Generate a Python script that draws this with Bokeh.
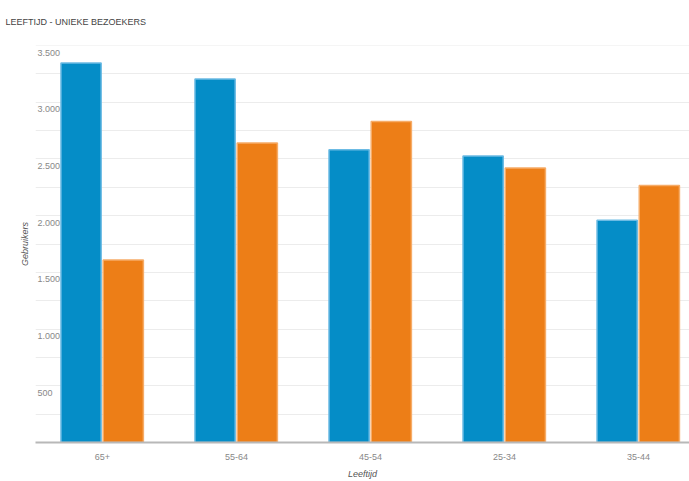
import numpy as np
from bokeh.plotting import figure, ColumnDataSource
from bokeh.models import Range1d, FixedTicker, LabelSet, Title, LinearAxis
from bokeh.core.properties import value
from bokeh.transform import dodge
from bokeh.embed import file_html
from bokeh.resources import INLINE

# ---- data ----
categories = ["65+", "55-64", "45-54", "25-34", "35-44"]
series_blue = [3345, 3205, 2580, 2525, 1960]
series_orange = [1610, 2640, 2830, 2420, 2265]
y_tick_values = [500, 1000, 1500, 2000, 2500, 3000, 3500]
y_tick_labels = ["500", "1.000", "1.500", "2.000", "2.500", "3.000", "3.500"]
grid_values = list(range(250, 3501, 250))
title_text = "LEEFTIJD - UNIEKE BEZOEKERS"
x_title = "Leeftijd"
y_title = "Gebruikers"

FONT = "Liberation Sans"
BLUE = "#058dc7"
ORANGE = "#ed7e17"

x_pos = np.arange(len(categories))
x_start, x_end = -0.5, 4.38

p = figure(width=689, height=481, output_backend="svg", toolbar_location=None,
           x_range=Range1d(x_start, x_end), y_range=Range1d(0, 3500),
           x_axis_location=None, y_axis_location=None,
           min_border_left=35, min_border_right=0, min_border_top=44,
           min_border_bottom=36)
p.outline_line_color = None
p.background_fill_color = "white"
p.border_fill_color = "white"
p.xgrid.visible = False
p.ygrid.visible = False

p.title.text = title_text
p.title.text_font = FONT
p.title.text_font_size = "9px"
p.title.text_font_style = "normal"
p.title.text_color = "#444444"
p.title.offset = -30
p.title.standoff = 33
p.title.vertical_align = "top"

# gridlines
gsrc = ColumnDataSource(dict(y=grid_values))
p.hspan(y="y", source=gsrc, line_color="#ececec", line_width=1)

# bars
src = ColumnDataSource(dict(x=x_pos, blue=series_blue, orange=series_orange))
bw = 0.30
p.vbar(x=dodge("x", -0.16), top="blue", width=bw, source=src,
       fill_color=BLUE, line_color="#6cbbe4", line_width=1.5)
p.vbar(x=dodge("x", 0.155), top="orange", width=bw, source=src,
       fill_color=ORANGE, line_color="#f6ac68", line_width=1.5)

# x axis
xax = LinearAxis(ticker=FixedTicker(ticks=list(x_pos)),
                 major_label_overrides={int(i): c for i, c in zip(x_pos, categories)})
xax.axis_line_color = "#b8b8b8"
xax.axis_line_width = 2
xax.major_tick_line_color = None
xax.minor_tick_line_color = None
xax.major_label_text_font = FONT
xax.major_label_text_font_size = "9px"
xax.major_label_text_color = "#888888"
xax.major_label_standoff = 5
xax.axis_label = x_title
xax.axis_label_text_font = FONT
xax.axis_label_text_font_size = "9px"
xax.axis_label_text_font_style = "italic"
xax.axis_label_text_color = "#555555"
xax.axis_label_standoff = 6
p.add_layout(xax, "below")

# y title on the left
p.add_layout(Title(text=y_title, align="center", text_font=FONT, text_font_size="9px",
                   text_font_style="italic", text_color="#555555", standoff=11), "left")

# y tick labels inside plot
lsrc = ColumnDataSource(dict(x=[x_start] * len(y_tick_values), y=y_tick_values, t=y_tick_labels))
p.add_layout(LabelSet(x="x", y="y", text="t", source=lsrc, x_offset=2, y_offset=-4,
                      text_align="left", text_baseline="top", text_font=value(FONT),
                      text_font_size=value("9px"), text_color="#888888",
                      background_fill_color="white", background_fill_alpha=0.8))

open("out.html", "w").write(file_html(p, INLINE))
